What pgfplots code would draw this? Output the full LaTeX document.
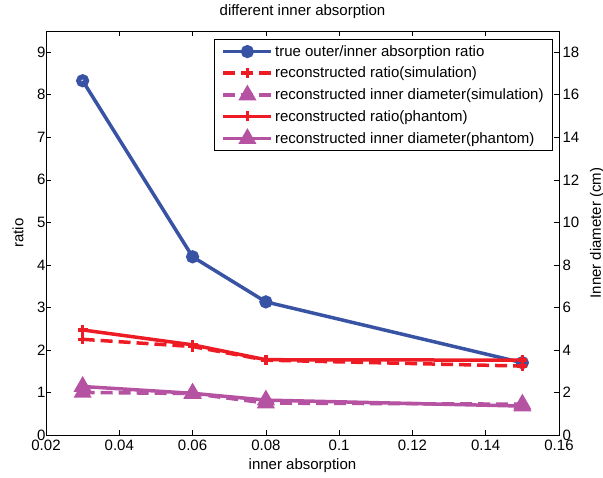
\documentclass[border=0pt]{standalone}
\usepackage{pgfplots}
\pgfplotsset{compat=1.18}
\usepackage{fontspec}
\setmainfont{Liberation Sans}
\definecolor{mblue}{RGB}{56,83,164}
\definecolor{mred}{RGB}{237,28,36}
\definecolor{mpurple}{RGB}{181,82,161}
\pgfplotsset{
  common/.style={
    scale only axis, width=513pt, height=404pt,
    xmin=0.02, xmax=0.16,
    font=\fontsize{15}{18}\selectfont,
    /pgf/number format/assume math mode=true,
    tick align=inside, major tick length=5pt,
    tick style={black, line width=0.6pt},
    axis line style={line width=0.8pt},
  },
  legimg/.style={legend image code/.code={
    \draw[mark repeat=2,mark phase=2] plot coordinates {(0pt,0pt)(24pt,0pt)(48pt,0pt)};}},
  sblue/.style={mblue, line width=3.5pt, mark=o, mark size=4pt, mark options={solid,line width=5pt}, legimg},
  sred/.style={mred, line width=3.5pt, mark=+, mark size=5pt, mark options={solid,line width=3.5pt}, legimg},
  spur/.style={mpurple, line width=3.5pt, mark=triangle*, mark size=9pt, mark options={solid,line width=1.5pt}, legimg},
  dsh/.style={dash pattern=on 12pt off 6pt},
}
\begin{document}
\begin{tikzpicture}
\begin{axis}[common,
  ymin=0, ymax=9.5, ytick={0,1,...,9},
  xtick={0.02,0.04,...,0.16},
  xticklabels={0.02,0.04,0.06,0.08,0.1,0.12,0.14,0.16},
  xtick pos=both, ytick pos=left,
  yticklabel style={xshift=3pt},
  xticklabel style={yshift=-2pt},
  xlabel={inner absorption}, ylabel={ratio},
  xlabel style={at={(axis description cs:0.5,-0.0767)}, anchor=center},
  ylabel style={at={(axis description cs:-0.0546,0.5)}, anchor=center},
  title={different inner absorption},
  title style={at={(axis description cs:0.5,1)}, anchor=center, yshift=13pt},
]
\addplot[sblue] coordinates {(0.03,8.33) (0.06,4.19) (0.08,3.13) (0.15,1.70)};
\addplot[sred,dsh] coordinates {(0.03,2.25) (0.06,2.08) (0.08,1.76) (0.15,1.62)};
\addplot[sred] coordinates {(0.03,2.47) (0.06,2.12) (0.08,1.77) (0.15,1.76)};
\coordinate (bbA) at (rel axis cs:0,0);
\coordinate (bbB) at (rel axis cs:1,1);
\end{axis}
\begin{axis}[common,
  ymin=0, ymax=19, ytick={0,2,...,18},
  axis y line*=right, axis x line=none,
  ylabel={Inner diameter (cm)},
  ylabel style={at={(axis description cs:1.074,0.5)}, anchor=center},
  legend style={at={(rel axis cs:1,1)}, anchor=north east, xshift=-6pt, yshift=-8pt,
    draw=black, line width=0.8pt, font=\fontsize{15}{18}\selectfont,
    row sep=5pt, inner ysep=4pt, inner xsep=7pt, cells={anchor=west}},
]
\addlegendimage{sblue}\addlegendentry{true outer/inner absorption ratio}
\addlegendimage{sred,dsh}\addlegendentry{reconstructed ratio(simulation)}
\addplot[spur,dsh] coordinates {(0.03,2.0) (0.06,1.95) (0.08,1.5) (0.15,1.45)};
\addlegendentry{reconstructed inner diameter(simulation)}
\addlegendimage{sred}\addlegendentry{reconstructed ratio(phantom)}
\addplot[spur] coordinates {(0.03,2.28) (0.06,1.96) (0.08,1.64) (0.15,1.36)};
\addlegendentry{reconstructed inner diameter(phantom)}
\end{axis}
\pgfresetboundingbox
\useasboundingbox ([shift={(-46pt,-43pt)}]bbA) rectangle ([shift={(44pt,31pt)}]bbB);
\end{tikzpicture}
\end{document}
